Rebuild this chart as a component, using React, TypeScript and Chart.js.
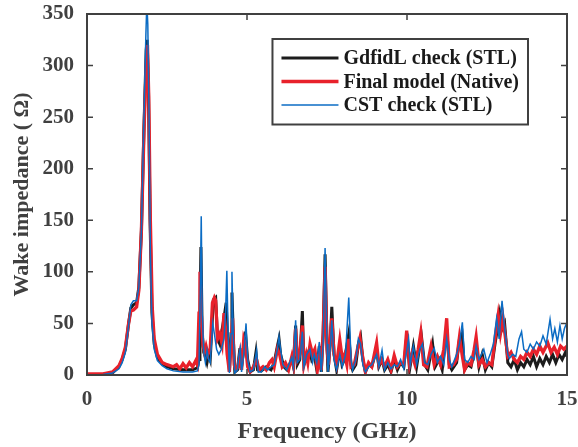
import { useEffect, useRef } from 'react';
import { Chart, registerables } from 'chart.js';

Chart.register(...registerables);

// ---------- data ----------
const xTickValues = [0, 5, 10, 15];
const yTickValues = [0, 50, 100, 150, 200, 250, 300, 350];

const seriesLabels = ['GdfidL check (STL)', 'Final model (Native)', 'CST check (STL)'];

// [frequency GHz, impedance Ohm]
const gdfidlPoints: [number, number][] = [
  [0, 0], [0.5, 0.5], [0.8, 2], [1.0, 8], [1.1, 15], [1.2, 25], [1.3, 50], [1.37, 65], [1.45, 68], [1.55, 70],
  [1.62, 85], [1.7, 140], [1.78, 240], [1.85, 315], [1.88, 325], [1.92, 280], [1.97, 150], [2.03, 60], [2.1, 30],
  [2.2, 17], [2.35, 11], [2.5, 8], [2.7, 6], [3.0, 5], [3.3, 5], [3.45, 7], [3.5, 15], [3.53, 60], [3.56, 124],
  [3.6, 40], [3.65, 22], [3.7, 18], [3.75, 12], [3.8, 20], [3.85, 15], [3.95, 73], [4.02, 75], [4.08, 35],
  [4.15, 30], [4.2, 40], [4.28, 55], [4.35, 70], [4.4, 30], [4.45, 3], [4.5, 40], [4.53, 80], [4.58, 30],
  [4.62, 3], [4.7, 5], [4.78, 26], [4.82, 5], [4.88, 20], [4.95, 42], [5.02, 15], [5.1, 3], [5.2, 5], [5.28, 22],
  [5.33, 5], [5.45, 4], [5.6, 8], [5.75, 5], [5.85, 12], [5.95, 28], [6.0, 35], [6.05, 20], [6.15, 8], [6.25, 5],
  [6.4, 15], [6.45, 8], [6.52, 48], [6.57, 10], [6.65, 15], [6.73, 62], [6.78, 10], [6.85, 15], [6.95, 25],
  [7.02, 15], [7.1, 20], [7.18, 5], [7.26, 28], [7.32, 3], [7.38, 40], [7.44, 117], [7.5, 30], [7.53, 3],
  [7.6, 30], [7.65, 66], [7.72, 20], [7.8, 5], [7.9, 25], [7.97, 10], [8.05, 15], [8.18, 40], [8.25, 10],
  [8.3, 5], [8.4, 10], [8.48, 30], [8.55, 37], [8.62, 15], [8.7, 3], [8.8, 10], [8.9, 8], [9.05, 25], [9.12, 8],
  [9.22, 15], [9.3, 5], [9.4, 10], [9.5, 3], [9.6, 15], [9.7, 5], [9.8, 12], [9.9, 8], [10.0, 40], [10.08, 5],
  [10.2, 28], [10.3, 8], [10.45, 38], [10.55, 10], [10.65, 5], [10.8, 30], [10.88, 8], [11.0, 15], [11.1, 5],
  [11.24, 45], [11.32, 10], [11.4, 5], [11.55, 12], [11.64, 35], [11.72, 40], [11.8, 5], [11.9, 10], [12.0, 8],
  [12.16, 30], [12.25, 8], [12.35, 20], [12.45, 5], [12.55, 12], [12.65, 8], [12.75, 30], [12.85, 50],
  [12.9, 60], [12.98, 45], [13.05, 50], [13.15, 12], [13.25, 8], [13.35, 15], [13.45, 5], [13.55, 12],
  [13.65, 8], [13.75, 15], [13.85, 10], [13.95, 18], [14.05, 8], [14.15, 16], [14.25, 10], [14.35, 18],
  [14.45, 12], [14.55, 20], [14.65, 12], [14.75, 20], [14.85, 15], [14.95, 22], [15, 18],
];

const finalModelPoints: [number, number][] = [
  [0, 1], [0.5, 1], [0.8, 3], [1.0, 9], [1.1, 16], [1.2, 27], [1.3, 50], [1.37, 62], [1.45, 63], [1.55, 66],
  [1.62, 82], [1.7, 140], [1.78, 235], [1.85, 300], [1.89, 320], [1.93, 270], [1.98, 150], [2.04, 65], [2.1, 35],
  [2.2, 20], [2.35, 12], [2.5, 10], [2.7, 8], [2.8, 10], [2.9, 6], [3.0, 11], [3.1, 7], [3.2, 12], [3.3, 8],
  [3.4, 14], [3.45, 10], [3.5, 60], [3.53, 100], [3.57, 60], [3.62, 30], [3.67, 22], [3.72, 28], [3.78, 20],
  [3.85, 25], [3.92, 70], [3.98, 75], [4.02, 72], [4.08, 35], [4.15, 40], [4.22, 30], [4.28, 60], [4.33, 45],
  [4.38, 20], [4.45, 3], [4.5, 30], [4.55, 55], [4.6, 10], [4.65, 5], [4.72, 8], [4.78, 20], [4.83, 5],
  [4.9, 35], [4.95, 30], [5.02, 8], [5.1, 3], [5.2, 8], [5.3, 15], [5.38, 5], [5.5, 8], [5.6, 5], [5.7, 12],
  [5.78, 15], [5.85, 8], [5.95, 25], [6.02, 20], [6.1, 8], [6.2, 12], [6.3, 5], [6.4, 18], [6.45, 10],
  [6.52, 45], [6.58, 15], [6.65, 20], [6.73, 48], [6.78, 10], [6.85, 20], [6.9, 12], [6.97, 30], [7.05, 20],
  [7.12, 25], [7.2, 5], [7.27, 20], [7.32, 5], [7.38, 40], [7.44, 105], [7.5, 25], [7.55, 10], [7.6, 35],
  [7.65, 55], [7.72, 20], [7.8, 10], [7.9, 34], [7.98, 15], [8.05, 20], [8.12, 10], [8.18, 35], [8.25, 8],
  [8.35, 10], [8.45, 25], [8.53, 36], [8.6, 20], [8.7, 3], [8.8, 12], [8.9, 8], [9.05, 31], [9.12, 10],
  [9.2, 15], [9.3, 8], [9.4, 15], [9.5, 5], [9.6, 19], [9.7, 8], [9.8, 12], [9.9, 10], [9.99, 43], [10.08, 10],
  [10.15, 20], [10.25, 10], [10.35, 25], [10.43, 41], [10.52, 10], [10.62, 8], [10.75, 28], [10.85, 10],
  [10.95, 18], [11.05, 10], [11.15, 25], [11.24, 55], [11.32, 8], [11.45, 10], [11.55, 15], [11.64, 37],
  [11.72, 20], [11.8, 5], [11.9, 12], [12.0, 10], [12.1, 25], [12.16, 37], [12.25, 10], [12.35, 15],
  [12.45, 8], [12.55, 12], [12.65, 10], [12.75, 35], [12.85, 58], [12.92, 40], [13.0, 55], [13.08, 35],
  [13.15, 18], [13.25, 22], [13.35, 15], [13.45, 12], [13.55, 18], [13.65, 15], [13.75, 22], [13.85, 18],
  [13.95, 25], [14.05, 20], [14.15, 28], [14.25, 22], [14.4, 31], [14.5, 22], [14.6, 27], [14.7, 20],
  [14.8, 28], [14.9, 25], [15, 28],
];

const cstPoints: [number, number][] = [
  [0, 0], [0.5, 0.5], [0.8, 2], [1.0, 6], [1.1, 12], [1.2, 22], [1.3, 48], [1.37, 68], [1.45, 72], [1.55, 72],
  [1.62, 85], [1.7, 140], [1.78, 250], [1.84, 330], [1.87, 360], [1.9, 340], [1.94, 250], [1.98, 120],
  [2.03, 50], [2.1, 25], [2.2, 14], [2.35, 9], [2.5, 6], [2.7, 4], [3.0, 3], [3.3, 3], [3.45, 4], [3.5, 10],
  [3.54, 80], [3.57, 154], [3.6, 60], [3.65, 22], [3.7, 12], [3.75, 24], [3.8, 15], [3.85, 12], [3.93, 50],
  [3.98, 40], [4.05, 25], [4.12, 20], [4.2, 25], [4.28, 35], [4.33, 60], [4.37, 101], [4.41, 40], [4.45, 2],
  [4.5, 40], [4.53, 100], [4.57, 40], [4.62, 2], [4.7, 5], [4.75, 20], [4.79, 26], [4.83, 3], [4.9, 20],
  [4.97, 50], [5.02, 15], [5.1, 3], [5.2, 5], [5.3, 24], [5.35, 3], [5.45, 3], [5.55, 8], [5.65, 5], [5.75, 8],
  [5.85, 10], [5.95, 25], [6.0, 37], [6.04, 27], [6.12, 10], [6.24, 5], [6.4, 17], [6.45, 8], [6.52, 53],
  [6.57, 12], [6.65, 15], [6.73, 42], [6.78, 8], [6.87, 20], [6.97, 25], [7.05, 12], [7.1, 20], [7.18, 12],
  [7.26, 32], [7.32, 3], [7.38, 30], [7.44, 123], [7.5, 30], [7.53, 3], [7.6, 25], [7.65, 53], [7.72, 15],
  [7.8, 5], [7.9, 20], [7.98, 8], [8.08, 20], [8.18, 75], [8.25, 15], [8.3, 5], [8.4, 15], [8.48, 35],
  [8.55, 30], [8.62, 10], [8.7, 3], [8.8, 8], [8.9, 10], [9.05, 20], [9.12, 8], [9.22, 24], [9.3, 5], [9.4, 12],
  [9.5, 6], [9.6, 10], [9.7, 8], [9.8, 15], [9.9, 6], [10.05, 35], [10.1, 10], [10.2, 28], [10.3, 10],
  [10.4, 25], [10.48, 30], [10.55, 12], [10.65, 10], [10.75, 20], [10.85, 26], [10.95, 12], [11.05, 18],
  [11.15, 10], [11.24, 35], [11.32, 15], [11.4, 8], [11.55, 20], [11.64, 30], [11.73, 51], [11.8, 15],
  [11.9, 12], [12.0, 18], [12.1, 15], [12.16, 28], [12.25, 15], [12.4, 25], [12.5, 12], [12.6, 20], [12.7, 30],
  [12.8, 55], [12.88, 35], [12.97, 72], [13.05, 45], [13.15, 20], [13.2, 16], [13.3, 20], [13.4, 18],
  [13.5, 35], [13.58, 42], [13.65, 25], [13.75, 22], [13.85, 30], [13.95, 25], [14.05, 32], [14.15, 28],
  [14.25, 38], [14.35, 30], [14.47, 54], [14.55, 35], [14.62, 45], [14.7, 32], [14.78, 48], [14.85, 35],
  [14.92, 45], [15, 51],
];

// ---------- style ----------
const AXIS_COLOR = '#404040';
const FONT_FAMILY = '"Liberation Serif", "Times New Roman", serif';

const toXY = (pts: [number, number][]) => pts.map(([x, y]) => ({ x, y }));

const framePlugin = {
  id: 'matlabFrame',
  afterDatasetsDraw(chart: any) {
    const { ctx, chartArea, scales } = chart;
    const { left, right, top, bottom } = chartArea;
    const len = 6;
    ctx.save();
    ctx.strokeStyle = AXIS_COLOR;
    ctx.lineWidth = 1.5;
    ctx.beginPath();
    xTickValues.forEach((v) => {
      const x = scales.x.getPixelForValue(v);
      ctx.moveTo(x, bottom);
      ctx.lineTo(x, bottom - len);
      ctx.moveTo(x, top);
      ctx.lineTo(x, top + len);
    });
    yTickValues.forEach((v) => {
      const y = scales.y.getPixelForValue(v);
      ctx.moveTo(left, y);
      ctx.lineTo(left + len, y);
      ctx.moveTo(right, y);
      ctx.lineTo(right - len, y);
    });
    ctx.stroke();
    ctx.lineWidth = 2;
    ctx.strokeRect(left, top, right - left, bottom - top);
    ctx.restore();
  },
};

const legendPlugin = {
  id: 'boxedLegend',
  afterDraw(chart: any) {
    const { ctx, chartArea } = chart;
    const datasets = chart.data.datasets;
    const boxRight = chartArea.right - 39;
    const boxTop = chartArea.top + 25;
    const rowH = 23.5;
    const padL = 9;
    const lineLen = 57;
    const gap = 5;
    const padR = 9;
    ctx.save();
    ctx.font = `bold 20px ${FONT_FAMILY}`;
    let maxW = 0;
    datasets.forEach((d: any) => {
      maxW = Math.max(maxW, ctx.measureText(d.label).width);
    });
    const boxW = padL + lineLen + gap + maxW + padR;
    const boxH = rowH * datasets.length + 15;
    const boxLeft = boxRight - boxW;
    ctx.fillStyle = '#ffffff';
    ctx.fillRect(boxLeft, boxTop, boxW, boxH);
    ctx.strokeStyle = AXIS_COLOR;
    ctx.lineWidth = 2;
    ctx.strokeRect(boxLeft, boxTop, boxW, boxH);
    datasets.forEach((d: any, i: number) => {
      const cy = boxTop + 19 + i * rowH;
      ctx.strokeStyle = d.borderColor;
      ctx.lineWidth = d.borderWidth;
      ctx.beginPath();
      ctx.moveTo(boxLeft + padL, cy);
      ctx.lineTo(boxLeft + padL + lineLen, cy);
      ctx.stroke();
      ctx.fillStyle = '#1a1a1a';
      ctx.textBaseline = 'middle';
      ctx.textAlign = 'left';
      ctx.fillText(d.label, boxLeft + padL + lineLen + gap, cy + 1);
    });
    ctx.restore();
  },
};

const clearScalePadding = (scale: any) => {
  scale.paddingTop = 0;
  scale.paddingBottom = 0;
  scale.paddingLeft = 0;
  scale.paddingRight = 0;
};

export default function App() {
  const canvasRef = useRef<HTMLCanvasElement | null>(null);

  useEffect(() => {
    if (!canvasRef.current) return;
    const chart = new Chart(canvasRef.current, {
      type: 'line',
      data: {
        datasets: [
          {
            label: seriesLabels[0],
            data: toXY(gdfidlPoints),
            borderColor: '#1c1c1c',
            borderWidth: 3,
            pointRadius: 0,
            tension: 0,
            order: 2,
          },
          {
            label: seriesLabels[1],
            data: toXY(finalModelPoints),
            borderColor: '#e8212b',
            borderWidth: 3.3,
            pointRadius: 0,
            tension: 0,
            order: 1,
          },
          {
            label: seriesLabels[2],
            data: toXY(cstPoints),
            borderColor: '#0b6cc4',
            borderWidth: 1.5,
            pointRadius: 0,
            tension: 0,
            order: 0,
          },
        ],
      },
      options: {
        responsive: false,
        animation: false,
        devicePixelRatio: 1,
        layout: { padding: { top: 14, right: 11, left: 0, bottom: 0 } },
        plugins: {
          legend: { display: false },
          tooltip: { enabled: false },
        },
        scales: {
          x: {
            type: 'linear',
            min: 0,
            max: 15,
            grid: { display: false, drawTicks: false },
            border: { display: false },
            afterBuildTicks: (scale: any) => {
              scale.ticks = xTickValues.map((v) => ({ value: v }));
            },
            afterFit: (scale: any) => {
              scale.height = 72;
              clearScalePadding(scale);
            },
            ticks: {
              padding: 12,
              color: AXIS_COLOR,
              font: { family: FONT_FAMILY, size: 21, weight: 'bold' },
              maxRotation: 0,
            },
            title: {
              display: true,
              text: 'Frequency (GHz)',
              color: AXIS_COLOR,
              font: { family: FONT_FAMILY, size: 24, weight: 'bold' },
              padding: { top: 0, bottom: 1 },
            },
          },
          y: {
            type: 'linear',
            min: 0,
            max: 350,
            grid: { display: false, drawTicks: false },
            border: { display: false },
            afterBuildTicks: (scale: any) => {
              scale.ticks = yTickValues.map((v) => ({ value: v }));
            },
            afterFit: (scale: any) => {
              scale.width = 87;
              clearScalePadding(scale);
            },
            ticks: {
              padding: 13,
              color: AXIS_COLOR,
              font: { family: FONT_FAMILY, size: 21, weight: 'bold' },
            },
            title: {
              display: true,
              text: 'Wake impedance ( Ω)',
              color: AXIS_COLOR,
              font: { family: FONT_FAMILY, size: 22, weight: 'bold' },
              padding: { top: 9, bottom: 0 },
            },
          },
        },
      },
      plugins: [framePlugin, legendPlugin],
    } as any);
    return () => chart.destroy();
  }, []);

  return (
    <div style={{ position: 'absolute', left: 0, top: 0, width: 578, height: 447, background: '#fff' }}>
      <canvas ref={canvasRef} width={578} height={447} />
    </div>
  );
}
